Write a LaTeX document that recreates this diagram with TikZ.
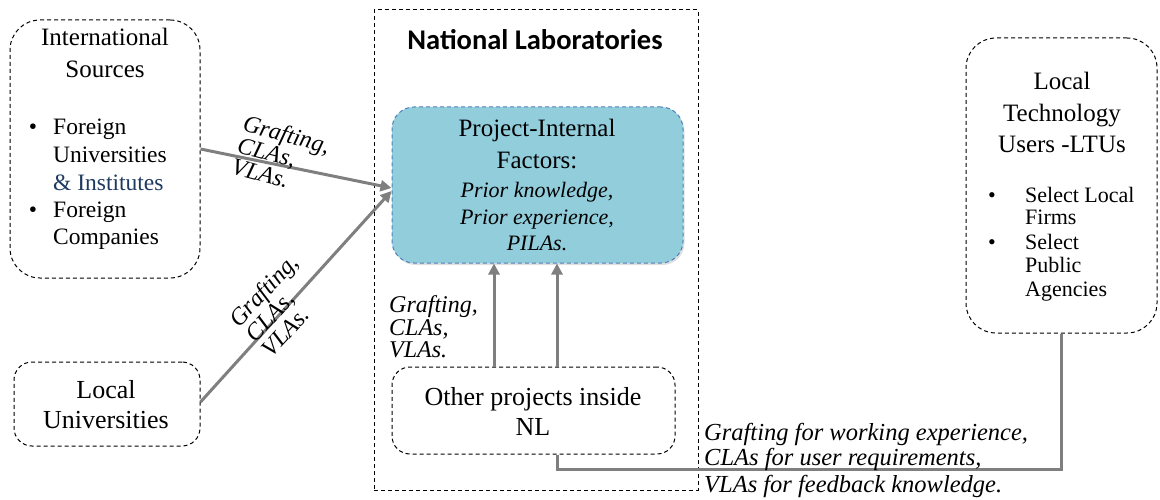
\documentclass[tikz,border=0pt]{standalone}
\usepackage{fontspec}
\setmainfont{Liberation Serif}
\newfontfamily\calib{Carlito}
\usetikzlibrary{arrows.meta,shadows}
\definecolor{arrgray}{HTML}{7F7F7F}
\definecolor{pifblue}{HTML}{92CDDC}
\definecolor{pifedge}{HTML}{4F81BD}
\definecolor{navy}{HTML}{1F3A60}
\newcommand\fs[1]{\fontsize{#1}{#1}\selectfont}
\tikzset{
  dbox/.style={draw=black, dash pattern=on 4pt off 3pt, line width=1pt, inner sep=0pt},
  ln/.style={inner sep=0pt, anchor=base},
  lnw/.style={inner sep=0pt, anchor=base west},
  arr/.style={draw=arrgray, line width=3pt, -{Triangle[length=11pt,width=11pt]}},
  conn/.style={draw=arrgray, line width=3pt},
}
\begin{document}
\begin{tikzpicture}[x=1pt,y=-1pt]
\useasboundingbox (0,0) rectangle (1160,500);
% boxes
\node[dbox, rounded corners=30pt, minimum width=190pt, minimum height=258pt] (isrc) at (105,149) {};
\node[dbox, minimum width=324pt, minimum height=480pt] (nl) at (536,250) {};
\node[dbox, draw=pifedge, fill=pifblue, rounded corners=22pt, minimum width=291pt, minimum height=156pt,
      drop shadow={shadow xshift=1.5pt, shadow yshift=-2pt, opacity=0.25}] (pif) at (537.5,185) {};
\node[dbox, rounded corners=18pt, minimum width=283pt, minimum height=87pt] (other) at (533.5,410.5) {};
\node[dbox, rounded corners=18pt, minimum width=186pt, minimum height=84pt] (luni) at (107,404) {};
\node[dbox, rounded corners=30pt, minimum width=191pt, minimum height=295pt] (ltu) at (1061.5,185.5) {};

% International sources text
\node[ln, font=\fs{25}] (is1) at (105,46) {International};
\node[ln, font=\fs{25}] (is2) at (105,78) {Sources};
\node[ln, font=\fs{23.5}] (isb1) at (33,135) {\textbullet};
\node[lnw, font=\fs{23.5}] (is3) at (53,135) {Foreign};
\node[lnw, font=\fs{23.5}] (is4) at (53,163) {Universities};
\node[lnw, font=\fs{23.5}, text=navy] (is5) at (53,190) {\& Institutes};
\node[ln, font=\fs{23.5}] (isb2) at (33,217) {\textbullet};
\node[lnw, font=\fs{23.5}] (is6) at (53,217) {Foreign};
\node[lnw, font=\fs{23.5}] (is7) at (53,244) {Companies};

% National Laboratories
\node[ln, font=\calib\bfseries\fs{28.5}] (nlt) at (535,50) {National Laboratories};
\node[ln, font=\fs{25}] (p1) at (537,137) {Project-Internal};
\node[ln, font=\fs{25}] (p2) at (537,168) {Factors:};
\node[ln, font=\itshape\fs{22}] (p3) at (537,197) {Prior knowledge,};
\node[ln, font=\itshape\fs{22}] (p4) at (537,224) {Prior experience,};
\node[ln, font=\itshape\fs{22}] (p5) at (537,251) {PILAs.};
\node[ln, font=\fs{26}] (o1) at (533,405) {Other projects inside};
\node[ln, font=\fs{26}] (o2) at (533,435) {NL};
\node[lnw, font=\itshape\fs{24}] (ol1) at (389,312) {Grafting,};
\node[lnw, font=\itshape\fs{24}] (ol2) at (389,335) {CLAs,};
\node[lnw, font=\itshape\fs{24}] (ol3) at (389,357) {VLAs.};

% Local universities
\node[ln, font=\fs{26}] (lu1) at (106,398) {Local};
\node[ln, font=\fs{26}] (lu2) at (106,428) {Universities};

% LTU
\node[ln, font=\fs{25}] (lt1) at (1062,90) {Local};
\node[ln, font=\fs{25}] (lt2) at (1062,122) {Technology};
\node[ln, font=\fs{25}] (lt3) at (1062,153) {Users -LTUs};
\node[ln, font=\fs{22}] (ltb1) at (992,202) {\textbullet};
\node[lnw, font=\fs{22}] (lt4) at (1025,202) {Select Local};
\node[lnw, font=\fs{22}] (lt5) at (1025,225) {Firms};
\node[ln, font=\fs{22}] (ltb2) at (992,249) {\textbullet};
\node[lnw, font=\fs{22}] (lt6) at (1025,249) {Select};
\node[lnw, font=\fs{22}] (lt7) at (1025,272) {Public};
\node[lnw, font=\fs{22}] (lt8) at (1025,296) {Agencies};

% connectors
\draw[arr] (isrc.east) -- ([yshift=-3pt]pif.west);
\draw[arr] ([yshift=2pt]luni.east) -- ([yshift=-6pt]pif.west);
\draw[arr] ([xshift=-39.5pt]other.north) -- ([xshift=-39.5pt]other.north |- pif.south);
\draw[arr] ([xshift=23.5pt]other.north) -- ([xshift=23.5pt]other.north |- pif.south);
\draw[conn] ([xshift=23.5pt]other.south) -- ++(0,15) -| (ltu.south);

% rotated labels
\node[inner sep=0pt, anchor=west, rotate=-15, align=left, font=\itshape\fontsize{24}{22}\selectfont] (lab1) at (238,144) {Grafting,\\CLAs,\\VLAs.};
\node[inner sep=0pt, anchor=west, rotate=47, align=left, font=\itshape\fontsize{24}{22}\selectfont] (lab2) at (249,338) {Grafting,\\CLAs,\\VLAs.};

% bottom label
\node[lnw, font=\itshape\fs{24.5}] (b1) at (704,440) {Grafting for working experience,};
\node[lnw, font=\itshape\fs{24.5}] (b2) at (704,465) {CLAs for user requirements,};
\node[lnw, font=\itshape\fs{24.5}] (b3) at (704,492) {VLAs for feedback knowledge.};
\end{tikzpicture}
\end{document}
